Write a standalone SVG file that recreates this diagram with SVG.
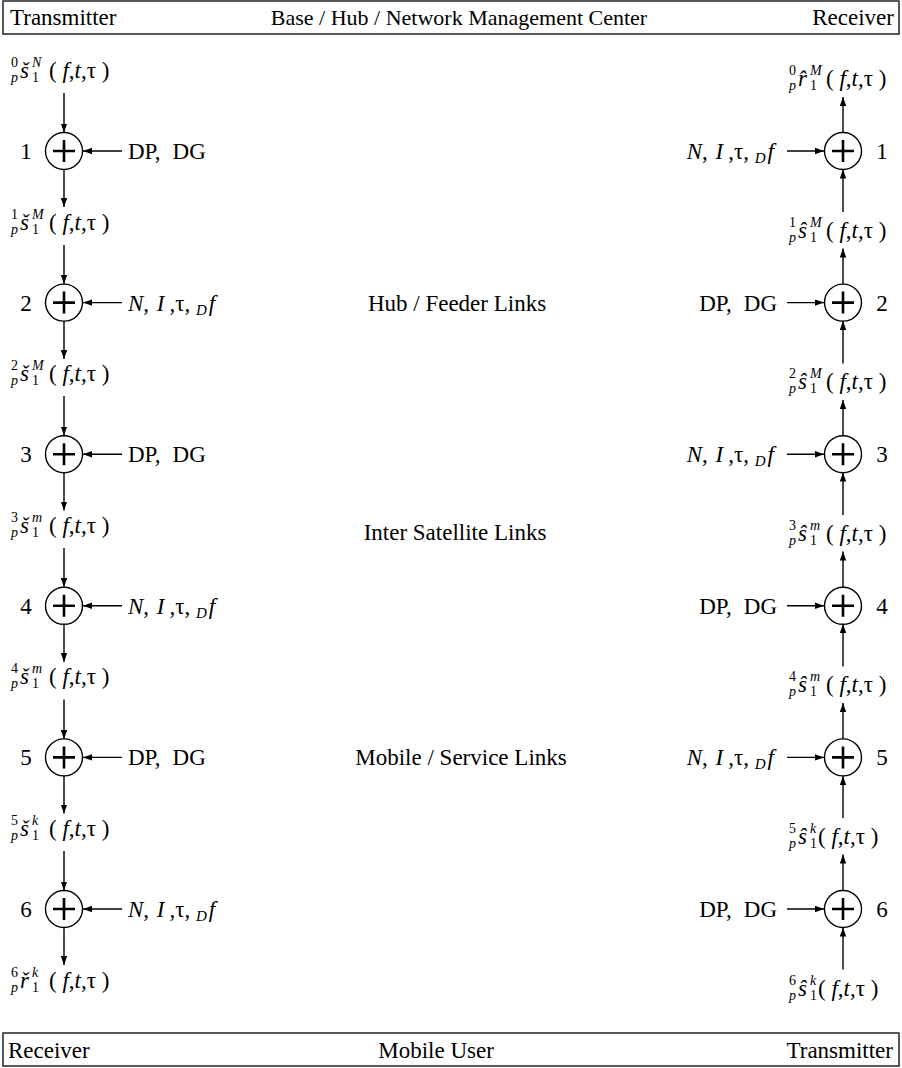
<svg xmlns="http://www.w3.org/2000/svg" width="902" height="1068" viewBox="0 0 902 1068">
  <style>
    text { font-family: "Liberation Serif", "Times New Roman", serif; font-size: 23px; fill: #000; }
    .i { font-style: italic; }
    .sm { font-size: 14px; }
    .sub { font-size: 15px; }
    .num { text-anchor: middle; }
    .end { text-anchor: end; }
    .mid { text-anchor: middle; }
    .box { fill: #fff; stroke: #222; stroke-width: 1.5; }
    .conn line { stroke: #000; stroke-width: 1.4; marker-end: url(#arrow); }
  </style>
  <defs>
    <marker id="arrow" markerUnits="userSpaceOnUse" markerWidth="10" markerHeight="8" refX="9" refY="4" orient="auto">
      <path d="M0,0.8 L9,4 L0,7.2 z" fill="#000"/>
    </marker>
    <!-- summing junction: circled plus -->
    <g id="plus">
      <circle r="18.5" fill="#fff" stroke="#000" stroke-width="1.4"/>
      <path d="M-11,0 H11 M0,-11 V11" stroke="#000" stroke-width="2.6" fill="none"/>
    </g>
  </defs>

  <!-- header bar -->
  <g id="header">
    <rect class="box" x="3" y="1" width="896" height="33"/>
    <text x="10" y="25">Transmitter</text>
    <text class="mid" x="459" y="25" style="font-size:22px">Base / Hub / Network Management Center</text>
    <text class="end" x="894" y="25">Receiver</text>
  </g>

  <!-- footer bar -->
  <g id="footer">
    <rect class="box" x="3" y="1033" width="896" height="33"/>
    <text x="8" y="1058">Receiver</text>
    <text class="mid" x="436" y="1058">Mobile User</text>
    <text class="end" x="893" y="1058">Transmitter</text>
  </g>

  <!-- section captions -->
  <g id="captions">
    <text class="mid" x="457" y="311">Hub / Feeder Links</text>
    <text class="mid" x="455" y="540">Inter Satellite Links</text>
    <text class="mid" x="461" y="765">Mobile / Service Links</text>
  </g>

  <!-- connectors -->
  <g id="connectors" class="conn">
    <!-- downlink chain (left) -->
    <line x1="64" y1="93" x2="64" y2="132.5"/>
    <line x1="64" y1="169.5" x2="64" y2="207"/>
    <line x1="64" y1="245" x2="64" y2="284"/>
    <line x1="64" y1="321" x2="64" y2="359"/>
    <line x1="64" y1="396" x2="64" y2="435.5"/>
    <line x1="64" y1="472.5" x2="64" y2="510.5"/>
    <line x1="64" y1="548" x2="64" y2="587"/>
    <line x1="64" y1="624" x2="64" y2="662"/>
    <line x1="64" y1="699.5" x2="64" y2="739"/>
    <line x1="64" y1="776" x2="64" y2="813.5"/>
    <line x1="64" y1="851" x2="64" y2="890.5"/>
    <line x1="64" y1="927.5" x2="64" y2="965"/>
    <!-- impairment inputs (left) -->
    <line x1="122" y1="151" x2="83" y2="151"/>
    <line x1="122" y1="302.6" x2="83" y2="302.6"/>
    <line x1="122" y1="454.2" x2="83" y2="454.2"/>
    <line x1="122" y1="605.8" x2="83" y2="605.8"/>
    <line x1="122" y1="757.4" x2="83" y2="757.4"/>
    <line x1="122" y1="909" x2="83" y2="909"/>
    <!-- uplink chain (right) -->
    <line x1="843" y1="132.5" x2="843" y2="97"/>
    <line x1="843" y1="212" x2="843" y2="169.5"/>
    <line x1="843" y1="284" x2="843" y2="248.5"/>
    <line x1="843" y1="363.5" x2="843" y2="321"/>
    <line x1="843" y1="435.5" x2="843" y2="400"/>
    <line x1="843" y1="515" x2="843" y2="472.5"/>
    <line x1="843" y1="587" x2="843" y2="551.5"/>
    <line x1="843" y1="666.5" x2="843" y2="624"/>
    <line x1="843" y1="739" x2="843" y2="703"/>
    <line x1="843" y1="818" x2="843" y2="776"/>
    <line x1="843" y1="890.5" x2="843" y2="854.5"/>
    <line x1="843" y1="969.5" x2="843" y2="927.5"/>
    <!-- impairment inputs (right) -->
    <line x1="787" y1="151" x2="824" y2="151"/>
    <line x1="787" y1="302.6" x2="824" y2="302.6"/>
    <line x1="787" y1="454.2" x2="824" y2="454.2"/>
    <line x1="787" y1="605.8" x2="824" y2="605.8"/>
    <line x1="787" y1="757.4" x2="824" y2="757.4"/>
    <line x1="787" y1="909" x2="824" y2="909"/>
  </g>

  <!-- summing junctions, left chain -->
  <g id="tx1"><use href="#plus" x="64" y="151"/><text class="num" x="26" y="159">1</text><text x="128" y="159">DP,<tspan dx="12">DG</tspan></text></g>
  <g id="tx2"><use href="#plus" x="64" y="302.6"/><text class="num" x="26" y="310.6">2</text><text x="128" y="310.6"><tspan class="i">N</tspan>, <tspan class="i" dx="2">I</tspan><tspan dx="5">,τ,</tspan> <tspan class="i sub" dy="4">D</tspan><tspan class="i" dy="-4" dx="2">f</tspan></text></g>
  <g id="tx3"><use href="#plus" x="64" y="454.2"/><text class="num" x="26" y="462.2">3</text><text x="128" y="462.2">DP,<tspan dx="12">DG</tspan></text></g>
  <g id="tx4"><use href="#plus" x="64" y="605.8"/><text class="num" x="26" y="613.8">4</text><text x="128" y="613.8"><tspan class="i">N</tspan>, <tspan class="i" dx="2">I</tspan><tspan dx="5">,τ,</tspan> <tspan class="i sub" dy="4">D</tspan><tspan class="i" dy="-4" dx="2">f</tspan></text></g>
  <g id="tx5"><use href="#plus" x="64" y="757.4"/><text class="num" x="26" y="765.4">5</text><text x="128" y="765.4">DP,<tspan dx="12">DG</tspan></text></g>
  <g id="tx6"><use href="#plus" x="64" y="909"/><text class="num" x="26" y="917">6</text><text x="128" y="917"><tspan class="i">N</tspan>, <tspan class="i" dx="2">I</tspan><tspan dx="5">,τ,</tspan> <tspan class="i sub" dy="4">D</tspan><tspan class="i" dy="-4" dx="2">f</tspan></text></g>

  <!-- summing junctions, right chain -->
  <g id="rx1"><use href="#plus" x="843" y="151"/><text class="num" x="882" y="159">1</text><text class="end" x="774" y="159"><tspan class="i">N</tspan>, <tspan class="i" dx="2">I</tspan><tspan dx="5">,τ,</tspan> <tspan class="i sub" dy="4">D</tspan><tspan class="i" dy="-4" dx="2">f</tspan></text></g>
  <g id="rx2"><use href="#plus" x="843" y="302.6"/><text class="num" x="882" y="310.6">2</text><text class="end" x="777" y="310.6">DP,<tspan dx="12">DG</tspan></text></g>
  <g id="rx3"><use href="#plus" x="843" y="454.2"/><text class="num" x="882" y="462.2">3</text><text class="end" x="774" y="462.2"><tspan class="i">N</tspan>, <tspan class="i" dx="2">I</tspan><tspan dx="5">,τ,</tspan> <tspan class="i sub" dy="4">D</tspan><tspan class="i" dy="-4" dx="2">f</tspan></text></g>
  <g id="rx4"><use href="#plus" x="843" y="605.8"/><text class="num" x="882" y="613.8">4</text><text class="end" x="777" y="613.8">DP,<tspan dx="12">DG</tspan></text></g>
  <g id="rx5"><use href="#plus" x="843" y="757.4"/><text class="num" x="882" y="765.4">5</text><text class="end" x="774" y="765.4"><tspan class="i">N</tspan>, <tspan class="i" dx="2">I</tspan><tspan dx="5">,τ,</tspan> <tspan class="i sub" dy="4">D</tspan><tspan class="i" dy="-4" dx="2">f</tspan></text></g>
  <g id="rx6"><use href="#plus" x="843" y="909"/><text class="num" x="882" y="917">6</text><text class="end" x="777" y="917">DP,<tspan dx="12">DG</tspan></text></g>

  <!-- transmitted signal labels (left) -->
  <g id="s0" transform="translate(11,78)">
    <text class="sm" y="-11">0</text><text class="sm i" y="4">p</text>
    <text class="i" x="9">š</text>
    <text class="sm i" x="21" y="-11">N</text><text class="sm" x="21" y="4">1</text>
    <text x="38">( <tspan class="i">f</tspan>,<tspan class="i">t</tspan>,τ )</text>
  </g>
  <g id="s1" transform="translate(11,229.6)">
    <text class="sm" y="-11">1</text><text class="sm i" y="4">p</text>
    <text class="i" x="9">š</text>
    <text class="sm i" x="21" y="-11">M</text><text class="sm" x="21" y="4">1</text>
    <text x="38">( <tspan class="i">f</tspan>,<tspan class="i">t</tspan>,τ )</text>
  </g>
  <g id="s2" transform="translate(11,381.2)">
    <text class="sm" y="-11">2</text><text class="sm i" y="4">p</text>
    <text class="i" x="9">š</text>
    <text class="sm i" x="21" y="-11">M</text><text class="sm" x="21" y="4">1</text>
    <text x="38">( <tspan class="i">f</tspan>,<tspan class="i">t</tspan>,τ )</text>
  </g>
  <g id="s3" transform="translate(11,532.8)">
    <text class="sm" y="-11">3</text><text class="sm i" y="4">p</text>
    <text class="i" x="9">š</text>
    <text class="sm i" x="21" y="-11">m</text><text class="sm" x="21" y="4">1</text>
    <text x="38">( <tspan class="i">f</tspan>,<tspan class="i">t</tspan>,τ )</text>
  </g>
  <g id="s4" transform="translate(11,684.4)">
    <text class="sm" y="-11">4</text><text class="sm i" y="4">p</text>
    <text class="i" x="9">š</text>
    <text class="sm i" x="21" y="-11">m</text><text class="sm" x="21" y="4">1</text>
    <text x="38">( <tspan class="i">f</tspan>,<tspan class="i">t</tspan>,τ )</text>
  </g>
  <g id="s5" transform="translate(11,836)">
    <text class="sm" y="-11">5</text><text class="sm i" y="4">p</text>
    <text class="i" x="9">š</text>
    <text class="sm i" x="21" y="-11">k</text><text class="sm" x="21" y="4">1</text>
    <text x="38">( <tspan class="i">f</tspan>,<tspan class="i">t</tspan>,τ )</text>
  </g>
  <g id="r6" transform="translate(11,987.6)">
    <text class="sm" y="-11">6</text><text class="sm i" y="4">p</text>
    <text class="i" x="9">ř</text>
    <text class="sm i" x="21" y="-11">k</text><text class="sm" x="21" y="4">1</text>
    <text x="38">( <tspan class="i">f</tspan>,<tspan class="i">t</tspan>,τ )</text>
  </g>

  <!-- received signal labels (right) -->
  <g id="rr0" transform="translate(789,86)">
    <text class="sm" y="-11">0</text><text class="sm i" y="4">p</text>
    <text class="i" x="9">r̂</text>
    <text class="sm i" x="21" y="-11">M</text><text class="sm" x="21" y="4">1</text>
    <text x="37">( <tspan class="i">f</tspan>,<tspan class="i">t</tspan>,τ )</text>
  </g>
  <g id="rs1" transform="translate(789,237.6)">
    <text class="sm" y="-11">1</text><text class="sm i" y="4">p</text>
    <text class="i" x="9">ŝ</text>
    <text class="sm i" x="21" y="-11">M</text><text class="sm" x="21" y="4">1</text>
    <text x="37">( <tspan class="i">f</tspan>,<tspan class="i">t</tspan>,τ )</text>
  </g>
  <g id="rs2" transform="translate(789,389.2)">
    <text class="sm" y="-11">2</text><text class="sm i" y="4">p</text>
    <text class="i" x="9">ŝ</text>
    <text class="sm i" x="21" y="-11">M</text><text class="sm" x="21" y="4">1</text>
    <text x="37">( <tspan class="i">f</tspan>,<tspan class="i">t</tspan>,τ )</text>
  </g>
  <g id="rs3" transform="translate(789,540.8)">
    <text class="sm" y="-11">3</text><text class="sm i" y="4">p</text>
    <text class="i" x="9">ŝ</text>
    <text class="sm i" x="21" y="-11">m</text><text class="sm" x="21" y="4">1</text>
    <text x="37">( <tspan class="i">f</tspan>,<tspan class="i">t</tspan>,τ )</text>
  </g>
  <g id="rs4" transform="translate(789,692.4)">
    <text class="sm" y="-11">4</text><text class="sm i" y="4">p</text>
    <text class="i" x="9">ŝ</text>
    <text class="sm i" x="21" y="-11">m</text><text class="sm" x="21" y="4">1</text>
    <text x="37">( <tspan class="i">f</tspan>,<tspan class="i">t</tspan>,τ )</text>
  </g>
  <g id="rs5" transform="translate(789,844)">
    <text class="sm" y="-11">5</text><text class="sm i" y="4">p</text>
    <text class="i" x="9">ŝ</text>
    <text class="sm i" x="21" y="-11">k</text><text class="sm" x="21" y="4">1</text>
    <text x="29">( <tspan class="i">f</tspan>,<tspan class="i">t</tspan>,τ )</text>
  </g>
  <g id="rs6" transform="translate(789,995.6)">
    <text class="sm" y="-11">6</text><text class="sm i" y="4">p</text>
    <text class="i" x="9">ŝ</text>
    <text class="sm i" x="21" y="-11">k</text><text class="sm" x="21" y="4">1</text>
    <text x="29">( <tspan class="i">f</tspan>,<tspan class="i">t</tspan>,τ )</text>
  </g>
</svg>
